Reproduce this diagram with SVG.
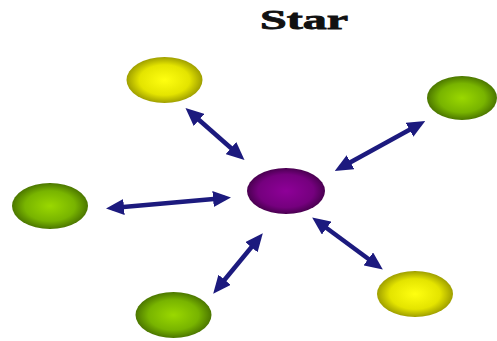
<svg xmlns="http://www.w3.org/2000/svg" width="497" height="341" viewBox="0 0 497 341">
<style>
.title{font-family:"Liberation Serif","Times New Roman",serif;font-weight:bold;font-size:28px;fill:#111;stroke:#111;stroke-width:0.8}
.conn{stroke:#1c1a7e;stroke-width:4.5;fill:none;marker-start:url(#ah);marker-end:url(#ah)}
</style>
<defs>
<radialGradient id="gy" cx="50%" cy="50%" r="55%">
<stop offset="0" stop-color="#ffff10"/>
<stop offset="0.6" stop-color="#e4e400"/>
<stop offset="1" stop-color="#8a8a00"/>
</radialGradient>
<radialGradient id="gg" cx="50%" cy="50%" r="55%">
<stop offset="0" stop-color="#9ad800"/>
<stop offset="0.6" stop-color="#78b400"/>
<stop offset="1" stop-color="#3e6400"/>
</radialGradient>
<radialGradient id="gp" cx="50%" cy="50%" r="55%">
<stop offset="0" stop-color="#8e0098"/>
<stop offset="0.65" stop-color="#75007e"/>
<stop offset="1" stop-color="#3a0040"/>
</radialGradient>
<marker id="ah" viewBox="0 0 18 16" refX="12" refY="8" markerWidth="18" markerHeight="16" markerUnits="userSpaceOnUse" orient="auto-start-reverse">
<path d="M0,0 L18,8 L0,16 Z" fill="#1c1a7e"/>
</marker>
</defs>
<rect width="497" height="341" fill="#ffffff"/>
<text class="title" x="260" y="29" textLength="88" lengthAdjust="spacingAndGlyphs">Star</text>
<g id="connectors">
<line class="conn" x1="190" y1="112" x2="240" y2="156"/>
<line class="conn" x1="340" y1="168" x2="420" y2="124"/>
<line class="conn" x1="112" y1="208" x2="225" y2="198"/>
<line class="conn" x1="217" y1="289" x2="259" y2="238"/>
<line class="conn" x1="317" y1="221" x2="378" y2="266"/>
</g>
<g id="hub"><ellipse cx="286" cy="191" rx="39" ry="23" fill="url(#gp)"/></g>
<g id="node-top-left"><ellipse cx="164.5" cy="80" rx="38" ry="23" fill="url(#gy)"/></g>
<g id="node-right"><ellipse cx="462" cy="98" rx="35" ry="22" fill="url(#gg)"/></g>
<g id="node-left"><ellipse cx="50" cy="206" rx="38" ry="23" fill="url(#gg)"/></g>
<g id="node-bottom"><ellipse cx="173.5" cy="315" rx="38" ry="23" fill="url(#gg)"/></g>
<g id="node-bottom-right"><ellipse cx="415" cy="294" rx="38" ry="23" fill="url(#gy)"/></g>
</svg>
